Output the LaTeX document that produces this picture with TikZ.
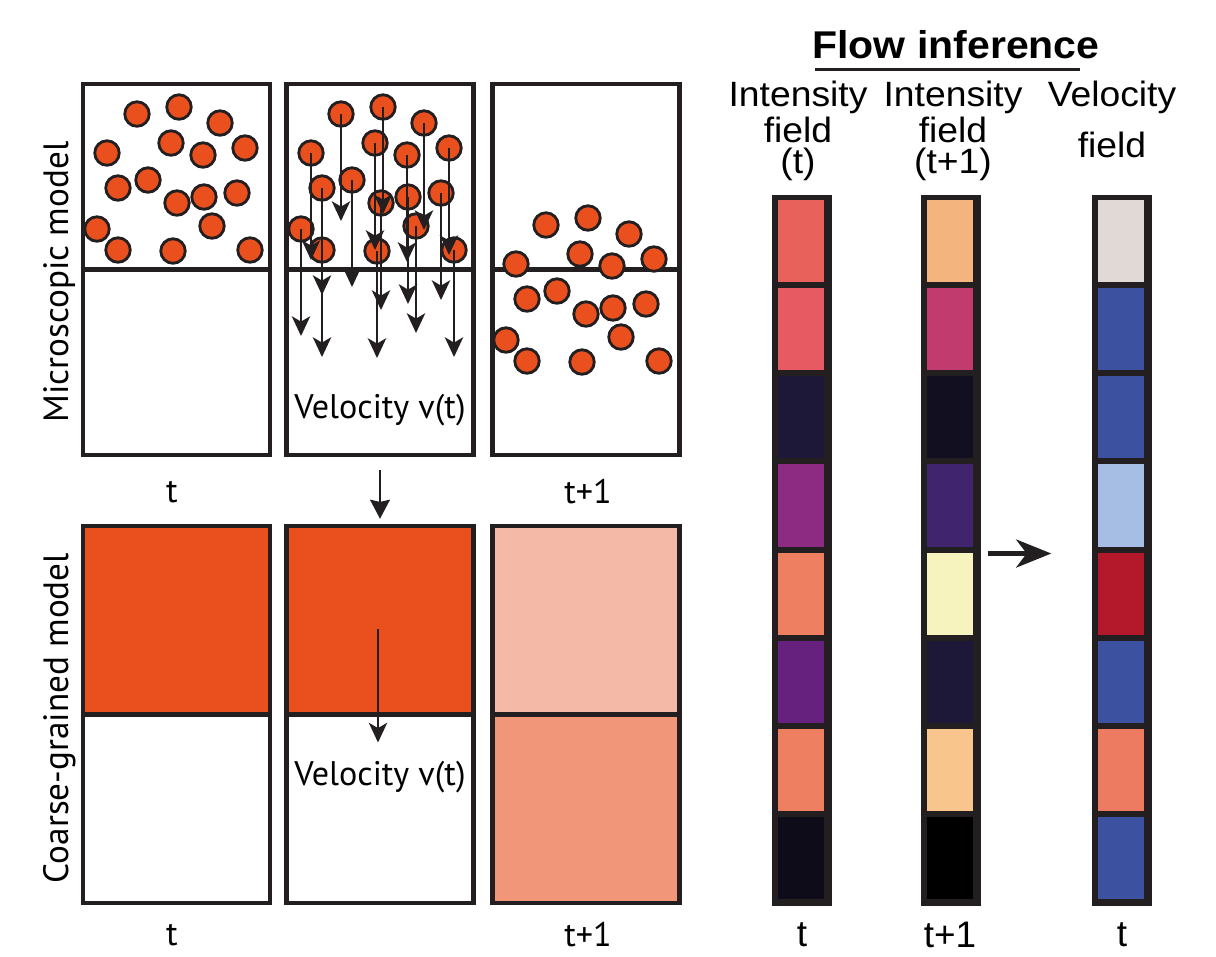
\documentclass[tikz,border=0pt]{standalone}
\usepackage{fontspec}
\setmainfont{Liberation Sans}
\newfontfamily\myriad{PT Sans}
\newfontfamily\wide[FakeStretch=1.06]{Liberation Sans}
\usetikzlibrary{arrows.meta,calc}
\definecolor{ink}{HTML}{231F20}
\definecolor{dot}{HTML}{E9501E}
\definecolor{pale}{HTML}{F5B9A8}
\definecolor{mid}{HTML}{F2967A}

\begin{document}
\begin{tikzpicture}[x=0.01cm,y=-0.01cm,
  panel/.style={draw=ink,line width=1.2pt,minimum width=1.87cm,minimum height=3.71cm,inner sep=0},
  cpanel/.style={panel,minimum height=3.77cm},
  tophalf/.style={path picture={\fill[#1] (path picture bounding box.north west) rectangle (path picture bounding box.east);}},
  particle/.style={circle,draw=ink,fill=dot,line width=0.8pt,minimum size=0.245cm,inner sep=0},
  vel/.style={draw=ink,line width=0.7pt,-{Stealth[length=5.6pt,width=5.2pt,inset=1.5pt]}},
  down/.style={draw=ink,line width=0.8pt,-{Stealth[length=5.4pt,width=5.6pt,inset=0.6pt]}},
  bar/.style={fill=ink,minimum width=0.60cm,minimum height=7.11cm,inner sep=0},
  myr/.style={font=\myriad\fontsize{9.7}{11}\selectfont,inner sep=0},
  hdr/.style={font=\wide\fontsize{10}{8.8}\selectfont,align=center,inner sep=0},
  lbl/.style={font=\fontsize{10.5}{12}\selectfont,inner sep=0}]
\useasboundingbox (0,0) rectangle (1216,956);

% microscopic model
\node[panel] (mA) at (176.5,269.5) {};
\node[panel] (mB) at (380,269.5) {};
\node[panel] (mC) at (586,269.5) {};
\foreach \n in {mA,mB,mC} \draw[ink,line width=1.2pt] (\n.west) -- (\n.east);

\foreach \px/\py [count=\k] in {137/114,179/107,220/123,107/153,171/143,203/155,245/148,118/188,
    148/180,177/203,204/197,237/193,97/229,212/226,118/250,173/251,250/250} {
  \node[particle] (a\k) at (\px,\py) {};
  \node[particle] (b\k) at (\px+204,\py) {};
  \node[particle] (c\k) at (\px+409,\py+111) {};
}
\foreach \k in {1,...,17} \draw[vel] (b\k.center) -- ++(0,107);

\node[myr] (velA) at (380,410) {Velocity v(t)};
\node[myr] (tA) at (172,492) {t};
\node[myr] (tC) at (588,492) {t+1};
\node[myr,rotate=90,font=\myriad\fontsize{10}{12}\selectfont] (micro) at (60,282) {Microscopic model};

% coarse-grained model
\node[cpanel,tophalf=dot] (cA) at (176.5,714.5) {};
\node[cpanel,tophalf=dot] (cB) at (380,714.5) {};
\node[cpanel,fill=mid,tophalf=pale] (cC) at (586,714.5) {};
\foreach \n in {cA,cB,cC} \draw[ink,line width=1.2pt] (\n.west) -- (\n.east);

\draw[down,shorten <=0.13cm,shorten >=0.05cm] (mB.south) -- (cB.north);
\draw[vel] ($(cB.center)+(-2,-86)$) -- ++(0,114);

\node[myr] (velB) at (380,777) {Velocity v(t)};
\node[myr] (tD) at (172,935) {t};
\node[myr] (tF) at (588,935) {t+1};
\node[myr,rotate=90,font=\myriad\fontsize{10}{12}\selectfont] (coarse) at (60,718) {Coarse-grained model};

% flow inference
\node[font=\wide\bfseries\fontsize{11}{13}\selectfont,inner sep=0] (title) at (956,45) {Flow inference};
\draw[ink,line width=0.9pt] ($(title.base west)+(3,11)$) -- ($(title.base east)+(-20,11)$);

\node[hdr] (h1) at (798,131) {Intensity\\field\\(t)};
\node[hdr] (h2) at (953,131) {Intensity\\field\\(t+1)};
\node[hdr] (h3) at (1112,119) {Velocity\\[4.2pt]field};

\node[bar] (bar1) at (802,550.5) {};
\node[bar] (bar2) at (950.5,550.5) {};
\node[bar] (bar3) at (1122,550.5) {};
\foreach \b/\cells in {bar1/{E8625B,E85A62,1E1838,8D2A82,EE7F60,65217D,EE7F60,0D0C18},
    bar2/{F4B47E,C23B6E,121020,40246E,F7F3BE,1E1838,F8C58C,000000},
    bar3/{E0D9D6,3C51A0,3C51A0,A6BDE4,B3192B,3C51A0,EC7B62,3C51A0}}
  \foreach \c [count=\i from 0] in \cells {
    \definecolor{cell}{HTML}{\c}
    \fill[cell] ($(\b.north west)+(7,6+\i*88.1)$) rectangle ++(46,82.1);
  }

\draw[ink,line width=1.2pt,-{Stealth[length=10pt,width=8pt,inset=3pt]},shorten <=0.07cm,shorten >=0.40cm]
  ([yshift=-0.03cm]bar2.east) -- ([yshift=-0.03cm]bar3.west);

\node[lbl] (t1) at (802,935) {t};
\node[lbl] (t2) at (950,935) {t+1};
\node[lbl] (t3) at (1122,935) {t};
\end{tikzpicture}
\end{document}
